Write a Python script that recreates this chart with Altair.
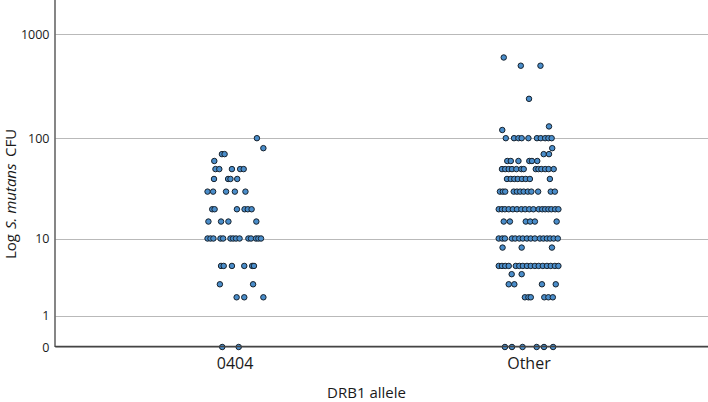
import altair as alt
import pandas as pd

# Allele groups shown on the x axis
groups = ["0404", "Other"]

# S. mutans CFU per subject, with a horizontal jitter (percent of group spacing)
cfu_0404 = [
    100, 80, 70, 70, 60,
    50, 50, 50, 50, 50,
    40, 40, 40, 40,
    30, 30, 30, 30, 30,
    20, 20, 20, 20, 20, 20,
    15, 15, 15, 15,
    10, 10, 10, 10, 10, 10, 10, 10, 10, 10, 10, 10, 10, 10,
    5, 5, 5, 5, 5, 5,
    3, 3,
    2, 2, 2,
    0, 0,
]
jitter_0404 = [
    7.6, 9.8, -4.3, -3.4, -6.9,
    -6.5, -5.2, -0.9, 1.9, 3.1,
    -7.0, -2.2, -1.4, 0.9,
    -9.2, -7.3, -2.9, 0.1, 3.7,
    -7.6, -6.8, 0.8, 3.4, 4.5, 5.8,
    -8.9, -4.6, -2.1, 7.4,
    -9.2, -8.2, -7.2, -4.8, -3.9, -1.4, -0.5, 0.5, 1.7, 4.7, 5.6, 7.3, 8.1, 9.0,
    -4.6, -3.7, -0.9, 3.3, 6.0, 6.6,
    -5.0, 6.3,
    0.7, 3.3, 9.8,
    -4.2, 1.4,
]

cfu_other = [
    600, 500, 500, 240, 130, 120,
    100, 100, 100, 100, 100, 100, 100, 100, 100, 100,
    80, 70, 70,
    60, 60, 60, 60, 60, 60,
    50, 50, 50, 50, 50, 50, 50, 50, 50, 50, 50, 50, 50,
    40, 40, 40, 40, 40, 40, 40, 40,
    30, 30, 30, 30, 30, 30, 30, 30, 30, 30, 30, 30,
    20, 20, 20, 20, 20, 20, 20, 20, 20, 20, 20, 20, 20, 20, 20, 20, 20,
    15, 15, 15, 15, 15, 15,
    10, 10, 10, 10, 10, 10, 10, 10, 10, 10, 10, 10, 10, 10, 10, 10,
    8, 8, 8,
    5, 5, 5, 5, 5, 5, 5, 5, 5, 5, 5, 5, 5, 5, 5, 5,
    4, 4,
    3, 3, 3, 3,
    2, 2, 2, 2, 2, 2,
    0, 0, 0, 0, 0, 0,
]
jitter_other = [
    -8.4, -2.6, 4.1, 0.2, 7.0, -8.9,
    -7.7, -4.9, -3.4, -2.3, 0.0, 2.9, 4.2, 5.7, 6.8, 7.9,
    8.1, 5.2, 7.0,
    -7.2, -6.0, -3.4, 0.3, 1.2, 3.0,
    -9.0, -7.9, -6.7, -5.6, -4.1, -2.4, -1.6, 2.5, 3.4, 4.4, 5.7, 6.9, 8.6,
    -7.3, -6.0, -4.8, -3.6, -2.2, -0.9, 0.5, 7.3,
    -9.7, -8.7, -7.9, -5.0, -3.9, -2.8, -1.6, -0.2, 1.0, 3.3, 7.6, 9.0,
    -10.1, -9.0, -8.0, -6.7, -5.3, -3.9, -2.4, -1.1, 0.3, 1.7, 3.5, 4.7, 5.7, 6.8, 7.8, 9.1, 10.2,
    -8.4, -6.3, -0.9, 0.6, 2.2, 9.6,
    -10.1, -8.9, -8.0, -5.6, -4.5, -3.1, -1.9, -0.5, 0.8, 2.2, 3.9, 5.1, 6.3, 7.4, 8.6, 10.0,
    -8.8, -2.3, 8.0,
    -10.1, -9.0, -7.9, -6.7, -4.3, -3.1, -1.9, -0.5, 0.8, 2.2, 3.5, 4.9, 6.3, 7.6, 9.0, 10.2,
    -5.7, -2.3,
    -6.7, -4.8, 4.6, 9.3,
    -1.2, 0.0, 0.8, 5.4, 6.8, 8.3,
    -8.0, -5.6, -2.0, 2.8, 5.3, 8.4,
]

y_ticks = [0, 1, 10, 100, 1000]

rows = []
for gi, (vals, jit) in enumerate([(cfu_0404, jitter_0404), (cfu_other, jitter_other)]):
    for v, j in zip(vals, jit):
        rows.append({"allele": groups[gi], "pos": gi + j / 100.0, "cfu": v})
df = pd.DataFrame(rows)
one = pd.DataFrame({"k": [0]})

FONT = "Open Sans"
INK = "#1a1a1a"
label_expr = "[" + ",".join(f"'{g}'" for g in groups) + "][datum.value]"

points = alt.Chart(df).mark_circle(
    size=30, color="#4a8dca", opacity=1, stroke="#16212c", strokeWidth=1
).encode(
    x=alt.X(
        "pos:Q",
        scale=alt.Scale(domain=[-0.6111, 1.6111], nice=False, zero=False),
        axis=alt.Axis(
            values=[0, 1], labelExpr=label_expr, title="DRB1 allele",
            grid=False, ticks=False, domain=False,
            labelFont=FONT, labelFontSize=16, labelColor=INK, labelPadding=8,
            titleFont=FONT, titleFontSize=15, titleFontWeight="normal",
            titleColor=INK, titlePadding=14, titleX=311,
        ),
    ),
    y=alt.Y(
        "cfu:Q",
        scale=alt.Scale(type="symlog", domain=[0, 2140], nice=False),
        axis=alt.Axis(
            values=y_ticks, format="d", title=None, grid=True, gridColor="#b9b9b9",
            gridWidth=1, ticks=False, domain=False,
            labelFont=FONT, labelFontSize=12.5, labelColor=INK, labelPadding=6,
        ),
    ),
)

# Axis lines drawn on the left and along zero
axis_x = alt.Chart(one).mark_rule(color="#444444", strokeWidth=1.3).encode(
    x=alt.value(0), x2=alt.value(653), y=alt.value(346.5)
)
axis_y = alt.Chart(one).mark_rule(color="#444444", strokeWidth=1.3).encode(
    x=alt.value(0), y=alt.value(0), y2=alt.value(347)
)

# Y axis title, read bottom to top, with the species name in italics
def ytitle(text, y, style="normal"):
    return alt.Chart(one).mark_text(
        text=text, angle=270, align="left", baseline="middle",
        font=FONT, fontSize=15, fontStyle=style, color=INK,
    ).encode(x=alt.value(-44), y=alt.value(y))

title_parts = (
    ytitle("Log", 259)
    + ytitle("S. mutans", 229, "italic")
    + ytitle("CFU", 157)
)

chart = alt.layer(points, axis_x, axis_y, title_parts).properties(
    width=653, height=347,
    autosize=alt.AutoSizeParams(type="none"),
    padding={"left": 55, "top": 0, "right": 0, "bottom": 55},
).configure_view(stroke=None)

chart.save("out.html", embed_options={"renderer": "svg", "actions": False})
